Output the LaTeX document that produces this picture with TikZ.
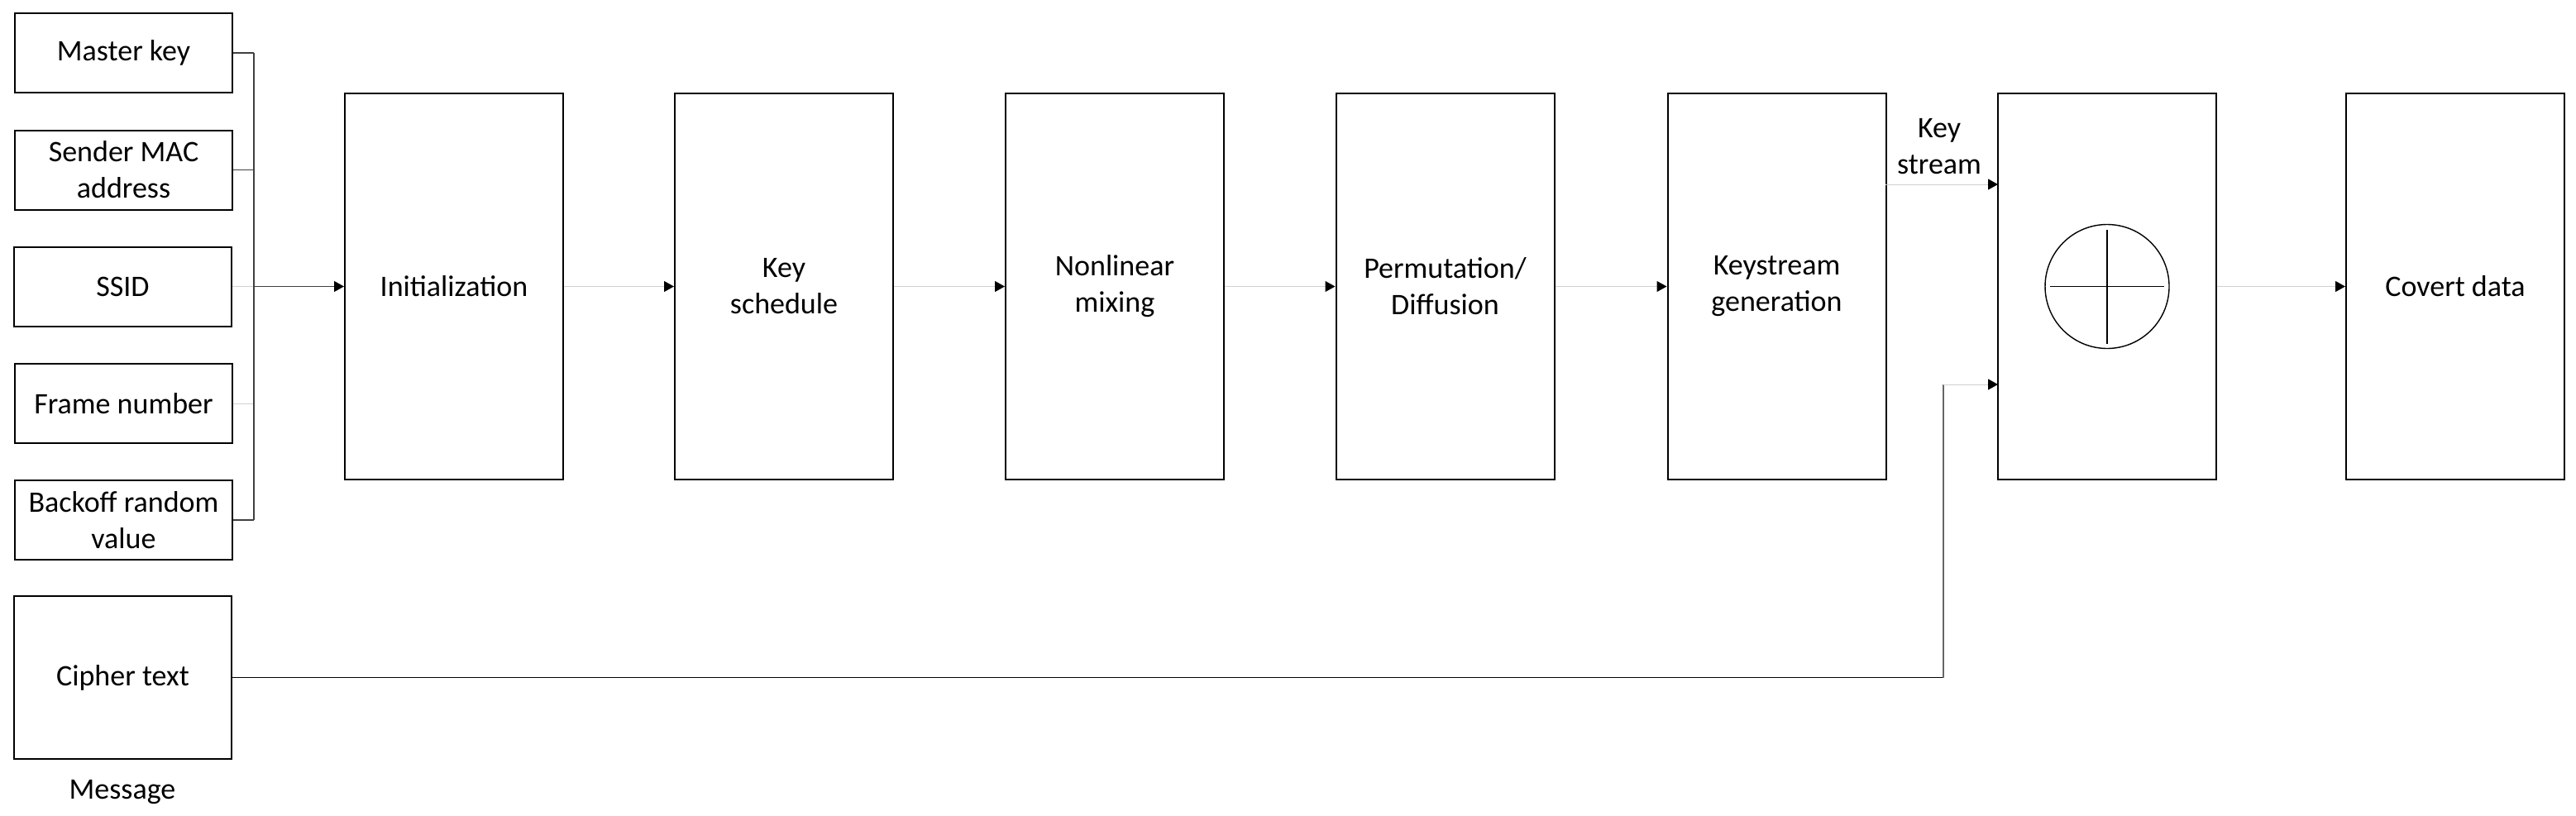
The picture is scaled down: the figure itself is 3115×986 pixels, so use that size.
\documentclass[tikz,border=0pt]{standalone}
\usepackage{fontspec}
\setmainfont{Carlito}
\usetikzlibrary{arrows.meta}
\begin{document}
\begin{tikzpicture}[x=0.5pt,y=-0.5pt,
  box/.style={draw=black, line width=1pt, inner sep=0pt, align=center,
    font=\fontsize{18}{22}\selectfont},
  inbox/.style={box, minimum width=131.5pt, minimum height=48pt},
  stagebox/.style={box, minimum width=132pt, minimum height=233.5pt},
  lbl/.style={inner sep=0pt, align=center, font=\fontsize{18}{22}\selectfont},
  tip/.style={-{Triangle[length=6pt,width=6.5pt,color=black]}},
  darkline/.style={draw=black!75, line width=0.6pt},
  lightline/.style={draw=black!18, line width=0.5pt},
  blackline/.style={draw=black, line width=0.8pt}]
\useasboundingbox (0,0) rectangle (3115,986);
% input boxes
\node[inbox] (mk)  at (149.5,64)    {Master key};
\node[inbox] (mac) at (149.5,205.5) {Sender MAC\\address};
\node[inbox] (ssid) at (148.5,346.5) {SSID};
\node[inbox] (fn)  at (149.5,488)   {Frame number};
\node[inbox] (bo)  at (149.5,629)   {Backoff random\\value};
\node[box, minimum width=131.5pt, minimum height=98.5pt] (ct) at (148.5,819.5) {Cipher text};
\node[lbl] (msg) at (148,958) {Message};
% stage boxes
\node[stagebox] (init) at (549,346.5)    {Initialization};
\node[stagebox] (ks)   at (948,346.5)    {Key\\schedule};
\node[stagebox] (nl)   at (1348,346.5)   {Nonlinear\\mixing};
\node[stagebox] (pd)   at (1747.5,346.5) {Permutation/\\Diffusion};
\node[stagebox] (kg)   at (2148.5,346.5) {Keystream\\generation};
\node[stagebox] (xr)   at (2548,346.5)   {};
\node[stagebox] (cd)   at (2969,346.5)   {Covert data};
% XOR symbol
\node[draw=black, line width=0.7pt, circle, minimum size=75pt, inner sep=0pt] (xo) at (2548,346.5) {};
\draw[black, line width=0.9pt] (2479,346.5) -- (2617,346.5);
\draw[black, line width=0.9pt] (2548,278) -- (2548,416);
% bus
\coordinate (bus) at (307,0);
\draw[darkline] (mk.east) -- (mk.east -| bus);
\draw[darkline] (mac.east) -- (mac.east -| bus);
\draw[lightline] (ssid.east) -- (ssid.east -| bus);
\draw[lightline] (fn.east) -- (fn.east -| bus);
\draw[darkline] (bo.east) -- (bo.east -| bus);
\draw[darkline] (mk.east -| bus) -- (bo.east -| bus);
\draw[darkline, tip] (ssid.east -| bus) -- (init.west);
% stage connectors
\draw[lightline, tip] (init.east) -- (ks.west);
\draw[lightline, tip] (ks.east) -- (nl.west);
\draw[lightline, tip] (nl.east) -- (pd.west);
\draw[lightline, tip] (pd.east) -- (kg.west);
\coordinate (kout) at (2280,223);
\coordinate (xin1) at (2416,223);
\draw[lightline, tip] (kout) -- (xin1);
\node[lbl] (kslbl) at (2345,177) {Key\\stream};
\draw[lightline, tip] (xr.east) -- (cd.west);
% cipher text path
\coordinate (vx) at (2350,0);
\coordinate (xin2) at (2416,465);
\draw[blackline] (ct.east) -- (ct.east -| vx);
\draw[draw=black!60, line width=0.6pt] (ct.east -| vx) -- (xin2 -| vx);
\draw[lightline, tip] (xin2 -| vx) -- (xin2);
\end{tikzpicture}
\end{document}
